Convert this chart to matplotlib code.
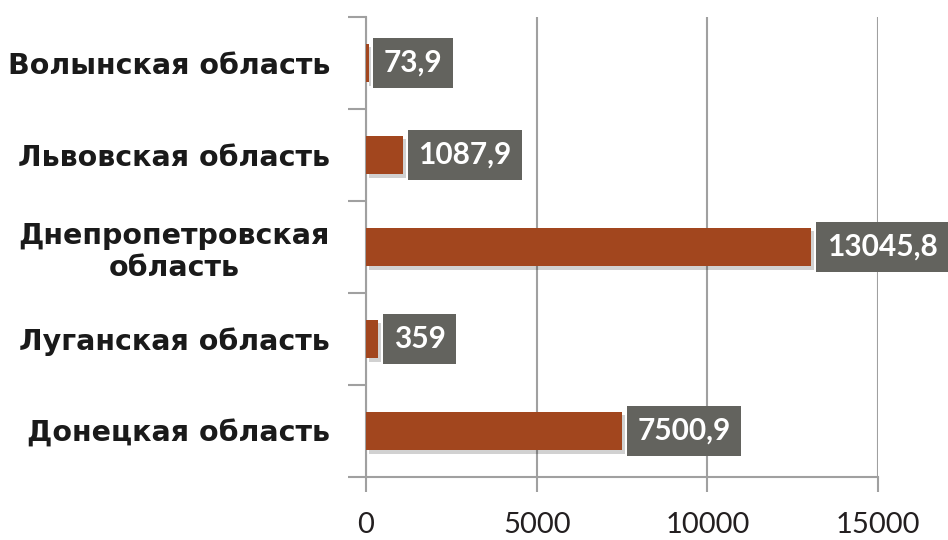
import numpy as np
import matplotlib.pyplot as plt
import matplotlib.patheffects as pe
from matplotlib.ticker import FixedLocator

regions = ["Донецкая область", "Луганская область", "Днепропетровская\nобласть",
           "Львовская область", "Волынская область"]
values = [7500.9, 359, 13045.8, 1087.9, 73.9]
valueLabels = ["7500,9", "359", "13045,8", "1087,9", "73,9"]
xTicks = [0, 5000, 10000, 15000]

barColor = "#a2461e"
boxColor = "#63635e"
lineColor = "#a0a0a0"

fig = plt.figure(figsize=(9.48, 5.4), dpi=100)
ax = fig.add_axes((366/948, 1 - 477/540, 512/948, 460/540))

yPos = np.arange(len(regions))
bars = ax.barh(yPos, values, height=0.42, color=barColor, zorder=3)
for b in bars:
	b.set_path_effects([pe.SimplePatchShadow(offset=(2, -2.5), shadow_rgbFace="#000000", alpha=0.18), pe.Normal()])

for y, v, lab in zip(yPos, values, valueLabels):
	ax.annotate(lab, (v, y), xytext=(11, 0), textcoords="offset points",
		ha="left", va="center", color="white", fontsize=21.5, fontweight="bold", family="Lato",
		bbox=dict(boxstyle="square,pad=0.36", fc=boxColor, ec="none"), zorder=5)

ax.set_xlim(0, 15000)
ax.set_ylim(-0.5, len(regions) - 0.5)
ax.set_xticks(xTicks)
ax.set_xticklabels([str(t) for t in xTicks], family="Lato", fontsize=21, color="#231f20")
ax.xaxis.grid(True, color=lineColor, linewidth=1.5, zorder=0)
ax.tick_params(axis="x", length=11, width=1.5, color=lineColor, pad=14)

ax.set_yticks(yPos)
ax.set_yticklabels(regions, fontsize=20.5, fontweight="bold", color="#1a1a1a",
	ha="right", multialignment="center")
ax.tick_params(axis="y", which="major", length=0, pad=26)
ax.yaxis.set_minor_locator(FixedLocator(np.arange(-0.5, len(regions), 1.0)))
ax.tick_params(axis="y", which="minor", length=13, width=1.5, color=lineColor)

for s in ["top", "right"]:
	ax.spines[s].set_visible(False)
for s in ["left", "bottom"]:
	ax.spines[s].set_color(lineColor)
	ax.spines[s].set_linewidth(1.5)

fig.savefig("out.png", dpi=100)
